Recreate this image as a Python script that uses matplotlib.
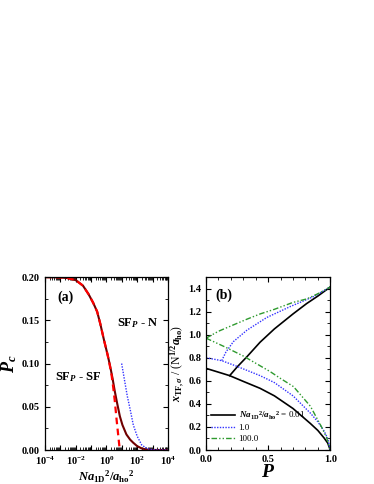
import numpy as np
import matplotlib
matplotlib.use('Agg')
import matplotlib.pyplot as plt
from matplotlib.ticker import MultipleLocator, FixedLocator, NullFormatter

plt.rcParams['font.family'] = 'Liberation Serif'
plt.rcParams['font.weight'] = 'bold'
plt.rcParams['mathtext.fontset'] = 'custom'
plt.rcParams['mathtext.rm'] = 'Liberation Serif:bold'
plt.rcParams['mathtext.it'] = 'Liberation Serif:italic:bold'
plt.rcParams['mathtext.bf'] = 'Liberation Serif:bold'

# Panel (a): critical polarization vs interaction
g_exact = [1e-4, 1e-3, 3e-3, 1e-2, 3e-2, 0.07, 0.14, 0.25, 0.4, 0.7, 1.2, 1.7, 2.5, 3.5,
           5, 7.5, 11, 20, 35, 55, 100, 200, 400, 1000, 1e4]
pc_exact = [0.2000, 0.1996, 0.1988, 0.1965, 0.190, 0.180, 0.170, 0.160, 0.146, 0.127, 0.110,
            0.098, 0.083, 0.068, 0.054, 0.039, 0.029, 0.018, 0.012, 0.0085, 0.0045, 0.0018,
            0.0006, 0.0001, 0.0]
g_weak = [1e-4, 1e-3, 3e-3, 1e-2, 3e-2, 0.07, 0.14, 0.25, 0.4, 0.7, 1.2, 1.7, 2.2, 2.8, 3.6,
          4.6, 5.8, 7.4]
pc_weak = [0.2, 0.1996, 0.1988, 0.1965, 0.190, 0.180, 0.170, 0.160, 0.146, 0.127, 0.110, 0.097,
           0.086, 0.072, 0.055, 0.035, 0.018, 0.0]
g_strong = [9.8, 16, 23, 35, 56, 100, 195, 400, 660, 2000, 1e4]
pc_strong = [0.100, 0.078, 0.062, 0.047, 0.029, 0.016, 0.006, 0.002, 0.0008, 0.0001, 0.0]

# Panel (b): Thomas-Fermi radii vs polarization P
P_lo_001 = [0, 0.1, 0.19, 0.3, 0.435, 0.55, 0.7, 0.84, 0.9, 0.95, 0.98, 1.0]
x_lo_001 = [0.708, 0.675, 0.645, 0.595, 0.535, 0.47, 0.36, 0.23, 0.17, 0.105, 0.06, 0.0]
P_up_001 = [0.19, 0.25, 0.33, 0.435, 0.55, 0.7, 0.81, 0.9, 0.97, 1.0]
x_up_001 = [0.645, 0.72, 0.81, 0.935, 1.05, 1.18, 1.27, 1.335, 1.39, 1.414]

P_lo_1 = [0, 0.126, 0.25, 0.435, 0.55, 0.7, 0.84, 0.9, 0.95, 0.98, 1.0]
x_lo_1 = [0.80, 0.775, 0.725, 0.645, 0.585, 0.47, 0.32, 0.245, 0.165, 0.1, 0.0]
P_up_1 = [0.126, 0.16, 0.22, 0.33, 0.49, 0.68, 0.865, 1.0]
x_up_1 = [0.775, 0.85, 0.94, 1.04, 1.15, 1.245, 1.33, 1.414]

P_lo_100 = [0, 0.15, 0.3, 0.516, 0.6, 0.704, 0.84, 0.93, 0.97, 1.0]
x_lo_100 = [0.97, 0.895, 0.815, 0.68, 0.62, 0.55, 0.38, 0.2, 0.11, 0.0]
P_up_100 = [0, 0.1, 0.22, 0.33, 0.435, 0.55, 0.7, 0.81, 0.9, 0.97, 1.0]
x_up_100 = [0.97, 1.03, 1.085, 1.135, 1.18, 1.22, 1.28, 1.31, 1.355, 1.395, 1.414]

xlabel_g = r'$Na_{\mathrm{1D}}{}^{2}/a_{\mathrm{ho}}{}^{2}$'

fig = plt.figure(figsize=(3.74, 4.84), dpi=100)
ax1 = fig.add_axes([0.120, 0.0702, 0.329, 0.3574])
ax2 = fig.add_axes([0.551, 0.0702, 0.332, 0.3574])

# ----- panel (a)
ax1.plot(g_exact, pc_exact, color='#700000', lw=1.5)
ax1.plot(g_weak, pc_weak, color='red', lw=1.6, ls=(0, (3, 2)))
ax1.plot(g_strong, pc_strong, color='#3333ff', lw=1.0, ls=(0, (1, 1)))
ax1.set_xscale('log')
ax1.set_xlim(1e-4, 1e4)
ax1.set_ylim(0, 0.2)
ax1.xaxis.set_major_locator(FixedLocator([10.0**k for k in range(-4, 5)]))
ax1.set_xticklabels([r'$10^{%d}$' % k if k % 2 == 0 else '' for k in range(-4, 5)])
ax1.xaxis.set_minor_locator(FixedLocator([m * 10.0**k for k in range(-4, 4) for m in range(2, 10)]))
ax1.xaxis.set_minor_formatter(NullFormatter())
ax1.yaxis.set_major_locator(MultipleLocator(0.05))
ax1.yaxis.set_minor_locator(MultipleLocator(0.025))
ax1.set_yticklabels(['%.2f' % v for v in ax1.get_yticks()])
ax1.set_xlabel(xlabel_g, fontsize=9, labelpad=1)
ax1.set_ylabel(r'$P_{c}$', fontsize=13, labelpad=2)
ax1.text(0.10, 0.884, '(a)', transform=ax1.transAxes, fontsize=10, va='center')
ax1.text(0.585, 0.734, r'SF$_{P}$ - N', transform=ax1.transAxes, fontsize=9, va='center')
ax1.text(0.08, 0.424, r'SF$_{P}$ - SF', transform=ax1.transAxes, fontsize=9, va='center')

# ----- panel (b)
ax2.plot(P_lo_001, x_lo_001, color='black', lw=1.2,
         label=xlabel_g + ' = 0.01')
ax2.plot(P_up_001, x_up_001, color='black', lw=1.2)
ax2.plot(P_lo_1, x_lo_1, color='#3333ff', lw=1.0, ls=(0, (1, 1)), label='1.0')
ax2.plot(P_up_1, x_up_1, color='#3333ff', lw=1.0, ls=(0, (1, 1)))
ax2.plot(P_lo_100, x_lo_100, color='#2e9a2e', lw=1.0, ls=(0, (4, 1.5, 1, 1.5, 1, 1.5)),
         label='100.0')
ax2.plot(P_up_100, x_up_100, color='#2e9a2e', lw=1.0, ls=(0, (4, 1.5, 1, 1.5, 1, 1.5)))
ax2.set_xlim(0, 1)
ax2.set_ylim(0, 1.5)
ax2.xaxis.set_major_locator(MultipleLocator(0.5))
ax2.xaxis.set_minor_locator(MultipleLocator(0.1))
ax2.yaxis.set_major_locator(MultipleLocator(0.2))
ax2.yaxis.set_minor_locator(MultipleLocator(0.1))
ax2.set_xticklabels(['%.1f' % v for v in ax2.get_xticks()])
ax2.set_yticklabels(['%.1f' % v for v in ax2.get_yticks()])
ax2.set_xlabel(r'$P$', fontsize=14, labelpad=0)
ax2.set_ylabel(r'$x_{\mathrm{TF},\sigma}$ / (N$^{1/2}a_{\mathrm{ho}}$)', fontsize=8.5, labelpad=1)
ax2.text(0.073, 0.896, '(b)', transform=ax2.transAxes, fontsize=10, va='center')
leg = ax2.legend(loc='lower left', bbox_to_anchor=(0.0, 0.01), frameon=False,
                 handlelength=2.6, handletextpad=0.4, labelspacing=0.25,
                 borderaxespad=0.2, prop={'weight': 'normal', 'size': 6.5})

for ax in (ax1, ax2):
    ax.tick_params(which='both', direction='in', top=True, right=True, labelsize=7.5)
    ax.tick_params(which='major', length=3.5, width=0.8)
    ax.tick_params(which='minor', length=2, width=0.6)
    for s in ax.spines.values():
        s.set_linewidth(0.9)

fig.savefig('out.png', dpi=100)
